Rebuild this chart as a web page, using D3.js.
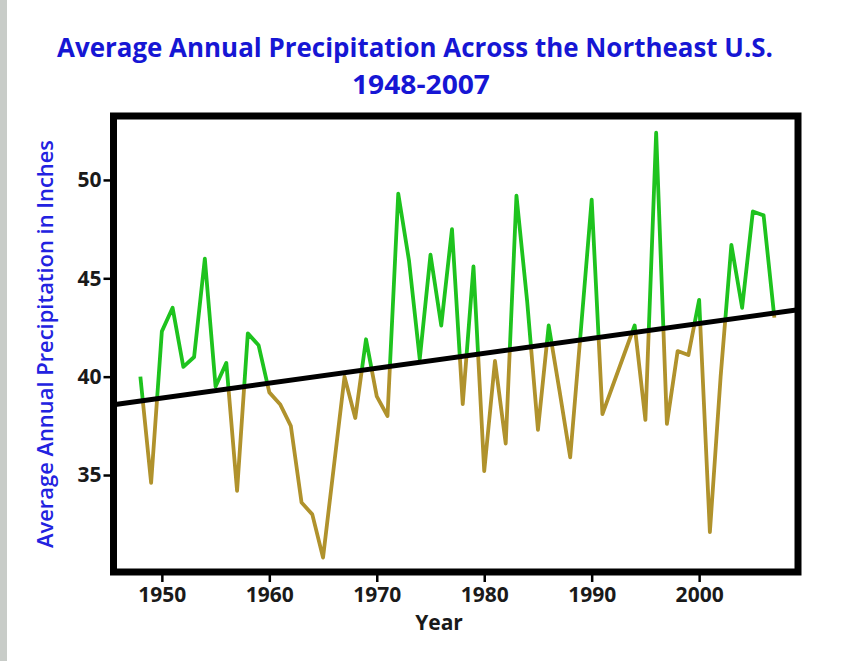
<!DOCTYPE html>
<html>
<head>
<meta charset="utf-8">
<script src="https://cdn.jsdelivr.net/npm/d3@7"></script>
<style>
  body { margin: 0; background: #fff; }
  text { font-family: "Open Sans", sans-serif; }
</style>
</head>
<body>
<div id="chart"></div>
<script>
// data
const years = [1948, 1949, 1950, 1951, 1952, 1953, 1954, 1955, 1956, 1957,
               1958, 1959, 1960, 1961, 1962, 1963, 1964, 1965, 1966, 1967,
               1968, 1969, 1970, 1971, 1972, 1973, 1974, 1975, 1976, 1977,
               1978, 1979, 1980, 1981, 1982, 1983, 1984, 1985, 1986, 1987,
               1988, 1989, 1990, 1991, 1992, 1993, 1994, 1995, 1996, 1997,
               1998, 1999, 2000, 2001, 2002, 2003, 2004, 2005, 2006, 2007];
const precip = [40.0, 34.6, 42.3, 43.5, 40.5, 41.0, 46.0, 39.5, 40.7, 34.2,
                42.2, 41.6, 39.2, 38.6, 37.5, 33.6, 33.0, 30.8, 35.4, 40.0,
                37.9, 41.9, 39.0, 38.0, 49.3, 45.9, 40.9, 46.2, 42.6, 47.5,
                38.6, 45.6, 35.2, 40.8, 36.6, 49.2, 43.8, 37.3, 42.6, 39.3,
                35.9, 42.4, 49.0, 38.1, 39.6, 41.1, 42.6, 37.8, 52.4, 37.6,
                41.3, 41.1, 43.9, 32.1, 40.0, 46.7, 43.5, 48.4, 48.2, 43.0];
// linear trend, from frame edge to frame edge
const trendYears = [1945.5, 2009.2];
const trendValues = [38.57, 43.40];
const xTicks = [1950, 1960, 1970, 1980, 1990, 2000];
const yTicks = [35, 40, 45, 50];

const data = years.map((d, i) => ({year: d, value: precip[i]}));
const trend = trendYears.map((d, i) => ({year: d, value: trendValues[i]}));

const W = 845, H = 661;
const plot = {left: 113.5, right: 798, top: 116, bottom: 572};

const svg = d3.select("#chart")
  .append("svg")
  .attr("width", W)
  .attr("height", H);

// grey strip at the left edge
svg.append("rect")
  .attr("x", 0).attr("y", 0)
  .attr("width", 7).attr("height", H)
  .attr("fill", "#c8ccc8");

const x = d3.scaleLinear()
  .domain([1945.5, 2009.2])
  .range([plot.left, plot.right]);

const y = d3.scaleLinear()
  .domain([30.07, 53.25])
  .range([plot.bottom, plot.top]);

// clip regions above / below the trend line
const defs = svg.append("defs");
const tl = trend.map(d => [x(d.year), y(d.value)]);
defs.append("clipPath").attr("id", "above")
  .append("polygon")
  .attr("points", [[tl[0][0], 0], [tl[1][0], 0], tl[1], tl[0]].join(" "));
defs.append("clipPath").attr("id", "below")
  .append("polygon")
  .attr("points", [tl[0], tl[1], [tl[1][0], H], [tl[0][0], H]].join(" "));

const line = d3.line()
  .x(d => x(d.year))
  .y(d => y(d.value));

svg.append("path")
  .datum(data)
  .attr("d", line)
  .attr("fill", "none")
  .attr("stroke", "#b0922c")
  .attr("stroke-width", 3.8)
  .attr("stroke-linejoin", "round")
  .attr("clip-path", "url(#below)");

svg.append("path")
  .datum(data)
  .attr("d", line)
  .attr("fill", "none")
  .attr("stroke", "#1ec31e")
  .attr("stroke-width", 3.8)
  .attr("stroke-linejoin", "round")
  .attr("clip-path", "url(#above)");

// trend line
svg.append("path")
  .datum(trend)
  .attr("d", line)
  .attr("stroke", "#000")
  .attr("stroke-width", 5);

// axes
const xAxis = svg.append("g")
  .attr("transform", `translate(0,${plot.bottom})`)
  .call(d3.axisBottom(x).tickValues(xTicks).tickFormat(d3.format("d"))
    .tickSize(10).tickPadding(5));
const yAxis = svg.append("g")
  .attr("transform", `translate(${plot.left},0)`)
  .call(d3.axisLeft(y).tickValues(yTicks).tickSize(10).tickPadding(2));

[xAxis, yAxis].forEach(g => {
  g.select(".domain").remove();
  g.selectAll(".tick line").attr("stroke", "#000").attr("stroke-width", 2.5);
  g.selectAll(".tick text")
    .attr("fill", "#1a1a1a")
    .style("font-family", "'Open Sans', sans-serif")
    .style("font-size", "21px")
    .style("font-weight", "bold");
});

// frame
svg.append("rect")
  .attr("x", plot.left).attr("y", plot.top)
  .attr("width", plot.right - plot.left)
  .attr("height", plot.bottom - plot.top)
  .attr("fill", "none")
  .attr("stroke", "#000")
  .attr("stroke-width", 7);

// titles
svg.append("text")
  .attr("x", 415).attr("y", 57)
  .attr("text-anchor", "middle")
  .attr("textLength", 716)
  .attr("lengthAdjust", "spacingAndGlyphs")
  .attr("fill", "#1616d4")
  .style("font-size", "27px")
  .style("font-weight", "bold")
  .text("Average Annual Precipitation Across the Northeast U.S.");

svg.append("text")
  .attr("x", 421).attr("y", 94)
  .attr("text-anchor", "middle")
  .attr("textLength", 138)
  .attr("lengthAdjust", "spacingAndGlyphs")
  .attr("fill", "#1616d4")
  .style("font-size", "27px")
  .style("font-weight", "bold")
  .text("1948-2007");

svg.append("text")
  .attr("x", 439).attr("y", 630)
  .attr("text-anchor", "middle")
  .attr("fill", "#1a1a1a")
  .style("font-size", "21px")
  .style("font-weight", "bold")
  .text("Year");

svg.append("text")
  .attr("transform", "translate(53,344) rotate(-90)")
  .attr("text-anchor", "middle")
  .attr("textLength", 408)
  .attr("lengthAdjust", "spacingAndGlyphs")
  .attr("fill", "#2222e0")
  .style("font-size", "21px")
  .style("font-weight", "600")
  .text("Average Annual Precipitation in Inches");
</script>
</body>
</html>
